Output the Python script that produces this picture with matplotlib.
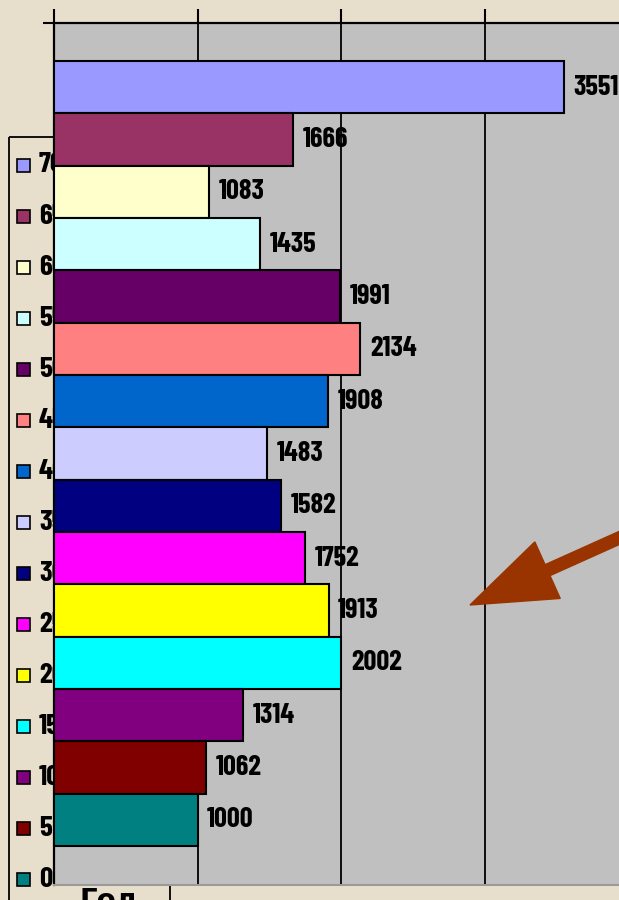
import matplotlib
matplotlib.use("Agg")
import matplotlib.pyplot as plt
import matplotlib.transforms as mtransforms
from matplotlib.patches import Rectangle, FancyArrow
import numpy as np
import logging
logging.getLogger("matplotlib.font_manager").setLevel(logging.ERROR)

# ---- data ----
values = [3551, 1666, 1083, 1435, 1991, 2134, 1908, 1483, 1582, 1752, 1913, 2002, 1314, 1062, 1000]
legend_labels = ["70", "65", "60", "55", "50", "45", "40", "35",
                 "30", "25", "20", "15", "10", "5", "0"]
colors = ["#9999FF", "#993366", "#FFFFCC", "#CCFFFF", "#660066", "#FF8080", "#0066CC", "#CCCCFF",
          "#000080", "#FF00FF", "#FFFF00", "#00FFFF", "#800080", "#800000", "#008080"]
grid_ticks = [0, 1000, 2000, 3000, 4000]
axis_title = "Год."

W, H = 619, 900
BG = "#E7DFCB"
PLOT_BG = "#C0C0C0"
FONT = ["Liberation Sans Narrow", "Arial Narrow", "Barlow Condensed", "DejaVu Sans"]

fig = plt.figure(figsize=(W / 100, H / 100), dpi=100, facecolor=BG)
px = mtransforms.Affine2D().scale(1 / W, -1 / H).translate(0, 1) + fig.transFigure

# axes: x from 54px (0) with 143.5 px per 1000, top 23px, bottom 885px
left, top, bottom = 54, 23, 885
xmax = 4000
right = left + xmax * 0.1435
ax = fig.add_axes([left / W, 1 - bottom / H, (right - left) / W, (bottom - top) / H])
ax.set_zorder(5)
ax.set_facecolor(PLOT_BG)

y = np.arange(len(values))
bars = ax.barh(y, values, height=1.0, color=colors, edgecolor="black", linewidth=1.5, zorder=3)
ax.set_xlim(0, xmax)
ax.set_ylim(14.5 + 0.745, -0.5 - 0.727)

for yi, v in zip(y, values):
    ax.annotate(f"{v}", xy=(v, yi), xytext=(7, 0), textcoords="offset points",
                ha="left", va="center", fontsize=20.5, fontweight="bold",
                family=FONT, color="black", zorder=4, clip_on=False)

ax.set_xticks(grid_ticks)
ax.xaxis.tick_top()
ax.tick_params(axis="x", direction="out", length=10, width=1.5, color="black",
               labeltop=False, labelbottom=False)
ax.grid(axis="x", color="black", linewidth=1.3, zorder=2)
ax.set_axisbelow(True)
ax.set_yticks([ax.get_ylim()[1]])
ax.tick_params(axis="y", direction="out", length=8, width=1.5, color="black", labelleft=False)

for s in ["top", "left"]:
    ax.spines[s].set_color("black")
    ax.spines[s].set_linewidth(1.6)
ax.spines["bottom"].set_color("#9A9A9A")
ax.spines["bottom"].set_linewidth(1.5)
ax.spines["right"].set_visible(False)

# ---- legend drawn behind the plot area ----
frame = Rectangle((9, 137), 161, 800, transform=px, facecolor="none",
                  edgecolor="black", linewidth=1.3, zorder=1)
fig.add_artist(frame)
for i, (lab, c) in enumerate(zip(legend_labels, colors)):
    yc = 165 + i * 51.07
    sq = Rectangle((17, yc - 6.5), 13, 13, transform=px, facecolor=c,
                   edgecolor="black", linewidth=1.2, zorder=1)
    fig.add_artist(sq)
    fig.text(39, yc, lab, transform=px, ha="left", va="center", fontsize=21,
             fontweight="bold", family=FONT, color="black", zorder=1)

fig.text(80, 888, axis_title, transform=px, ha="left", va="top", fontsize=20,
         fontweight="bold", family=FONT, color="black", zorder=1)

# ---- arrow ----
tail = np.array([628.0, 534.0])
tip = np.array([470.0, 605.0])
d = tip - tail
arrow = FancyArrow(tail[0], tail[1], d[0], d[1], width=12, head_width=62, head_length=85,
                   length_includes_head=True, transform=px, color="#993300", zorder=10)
fig.add_artist(arrow)

fig.savefig("out.png", dpi=100, facecolor=BG)
